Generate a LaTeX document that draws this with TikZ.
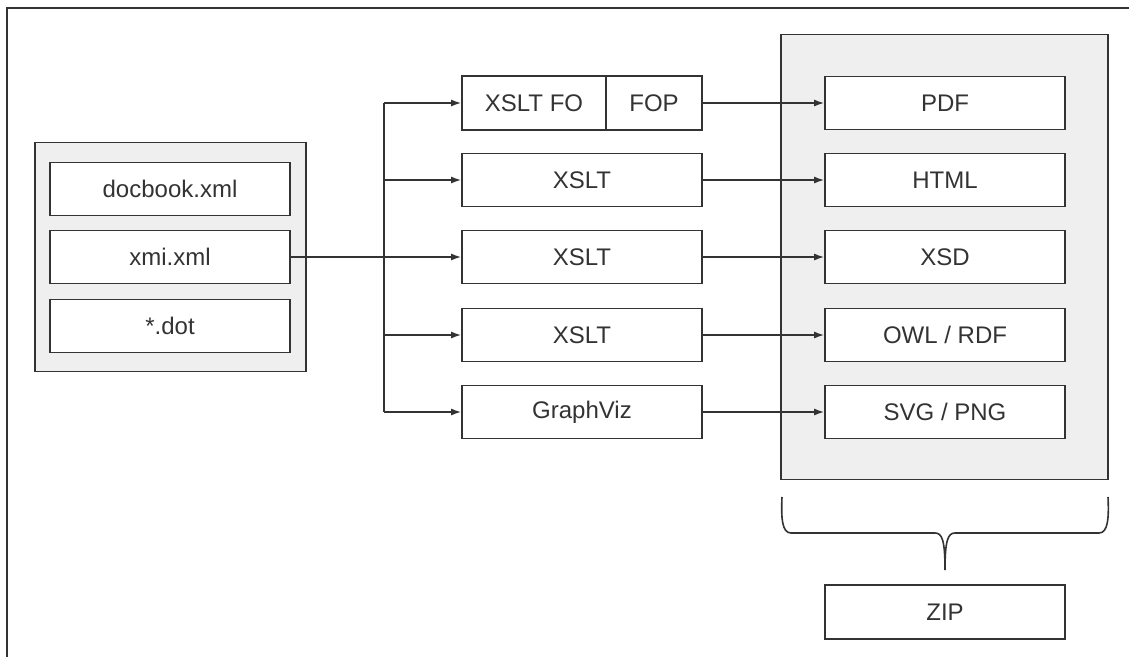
\documentclass[tikz,border=0pt]{standalone}
\usepackage{fontspec}
\setmainfont{Liberation Sans}
\usetikzlibrary{arrows.meta}
\definecolor{ln}{HTML}{333333}
\definecolor{grp}{HTML}{EFEFEF}
\definecolor{tx}{HTML}{333333}
\begin{document}
\begin{tikzpicture}[x=1pt,y=-1pt,
  box/.style={draw=ln,line width=1.6pt,fill=white,minimum width=240pt,minimum height=53pt,inner sep=0pt,text=tx,font=\fontsize{24}{28}\selectfont},
  group/.style={draw=ln,line width=1.6pt,fill=grp,inner sep=0pt},
  conn/.style={draw=ln,line width=1.6pt},
  arr/.style={conn,-{Latex[length=10pt,width=7pt]}}]
\useasboundingbox (0,0) rectangle (1129,656);
% outer frame (only top and left visible)
\draw[ln,line width=2pt] (7,660) -- (7,8) -- (1135,8);
% left group
\node[group,minimum width=271pt,minimum height=229pt] (grpL) at (170.5,257) {};
\node[box] (docbook) at (170,189) {docbook.xml};
\node[box] (xmi) at (170,257) {xmi.xml};
\node[box] (dot) at (170,326) {*.dot};
% right group
\node[group,minimum width=327pt,minimum height=445pt] (grpR) at (944.5,257) {};
\node[box] (pdf) at (945,103) {PDF};
\node[box] (html) at (945,180) {HTML};
\node[box] (xsd) at (945,257) {XSD};
\node[box] (owl) at (945,335) {OWL / RDF};
\node[box] (svg) at (945,412) {SVG / PNG};
% middle
\node[box,minimum width=144pt,minimum height=54pt] (xsltfo) at (534,103) {XSLT FO};
\node[box,minimum width=96pt,minimum height=54pt] (fop) at (654,103) {FOP};
\node[box] (xslt1) at (582,180) {XSLT};
\node[box] (xslt2) at (582,257) {XSLT};
\node[box] (xslt3) at (582,335) {XSLT};
\node[box] (gv) at (582,412) {GraphViz};
% zip
\node[box,minimum height=54pt] (zip) at (945,612) {ZIP};
% connectors
\coordinate (busx) at (384,0);
\draw[conn] (xsltfo.west -| busx) -- (gv.west -| busx);
\draw[arr] (xmi.east) -- (xslt2.west);
\foreach \n in {xsltfo,xslt1,xslt3,gv}{
  \draw[arr] (\n.west -| busx) -- (\n.west);
}
\draw[arr] (fop.east) -- (pdf.west);
\draw[arr] (xslt1.east) -- (html.west);
\draw[arr] (xslt2.east) -- (xsd.west);
\draw[arr] (xslt3.east) -- (owl.west);
\draw[arr] (gv.east) -- (svg.west);
% brace
\coordinate (bl) at (782,497);
\coordinate (br) at (1108,497);
\coordinate (btip) at (945,570);
\draw[ln,line width=1.6pt] (bl) .. controls (781,518) and (782,533) .. (791,533) -- (935,533)
  .. controls (942,533) and (945,540) .. (btip)
  .. controls (945,540) and (948,533) .. (955,533) -- (1099,533)
  .. controls (1108,533) and (1109,518) .. (br);
\end{tikzpicture}
\end{document}
